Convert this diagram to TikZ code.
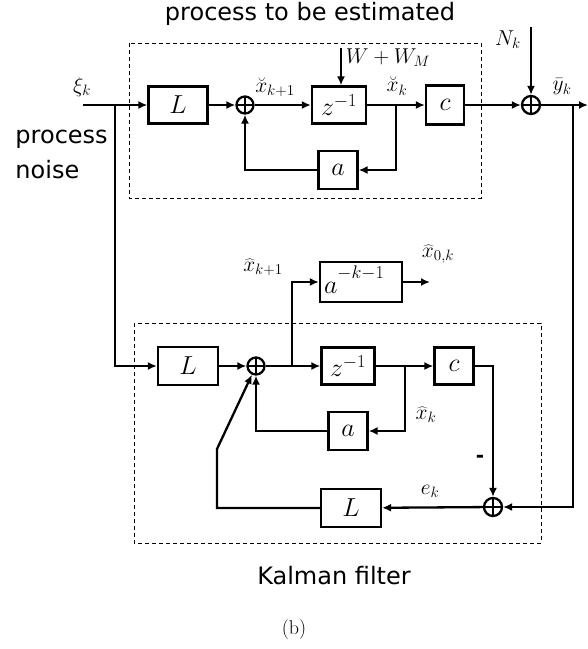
\RequirePackage{fix-cm}
\documentclass[tikz,border=0pt]{standalone}
\usepackage{fontspec}
\setsansfont{DejaVu Sans}
\usetikzlibrary{arrows.meta}

\tikzset{
  block/.style={draw, line width=2.3pt, inner sep=0pt, font=\fontsize{26}{30}\selectfont},
  sumnode/.style={circle, draw, line width=2.3pt, minimum size=17pt, inner sep=0pt,
    path picture={\draw[line width=2.3pt] (path picture bounding box.north) -- (path picture bounding box.south)
      (path picture bounding box.west) -- (path picture bounding box.east);}},
  sig/.style={font=\fontsize{21.5}{24}\selectfont},
  wordtext/.style={font=\sffamily\fontsize{24}{35}\selectfont},
  frame/.style={dashed, line width=1pt, dash pattern=on 4pt off 3pt},
}

\begin{document}
\begin{tikzpicture}[x=1pt, y=-1pt, line width=2.3pt, >={Latex[length=9pt,width=8pt]}]
\useasboundingbox (0,0) rectangle (588,649);

% process to be estimated
\draw[frame] (129,43) rectangle (481,198);
\node[wordtext] (title) at (310,14) {process to be estimated};
\node[wordtext, align=left, anchor=west] (noise) at (11,154) {process\\noise};

\coordinate (xin) at (83,105);
\coordinate (br1) at (115,105);
\node[sig] (xilab) at (82,87) {$\xi_k$};

\node[block, minimum width=59pt, minimum height=37pt] (L1) at (178,105) {$L$};
\node[sumnode] (s1) at (245,105) {};
\node[block, minimum width=54pt, minimum height=37pt] (z1) at (339,105) {$z^{-1}$};
\coordinate (br3) at (396,105);
\node[block, minimum width=38pt, minimum height=39pt] (c1) at (445,105) {$c$};
\node[block, minimum width=39pt, minimum height=38pt] (a1) at (338,170) {$a$};
\node[sumnode, minimum size=18pt] (s2) at (531,105) {};
\coordinate (br2) at (573,105);
\coordinate (yout) at (588,105);

\coordinate (win) at (341,48);
\coordinate (nin) at (531,27);
\node[sig] (wlab) at (388,58) {$W+W_M$};
\node[sig] (nlab) at (508,40) {$N_k$};
\node[sig] (xk1lab) at (275,87) {$\breve{x}_{k+1}$};
\node[sig] (xklab) at (397,86) {$\breve{x}_k$};
\node[sig] (ylab) at (562,87) {$\bar{y}_k$};

\draw[->] (xin) -- (L1);
\draw[->] (L1) -- (s1);
\draw[->] (s1) -- (z1);
\draw[->] (z1) -- (c1);
\draw[->] (c1) -- (s2);
\draw[->] (s2) -- (yout);
\draw[->] (win) -- (win |- z1.north);
\draw[->] (nin) -- (s2);
\draw[->] (br3) |- (a1);
\draw[->] (a1) -| (s1);

% Kalman filter
\draw[frame] (134,323) rectangle (541,543);
\node[wordtext] (kftitle) at (334,576) {Kalman filter};

\node[block, minimum width=60pt, minimum height=38pt] (L2) at (188,366) {$L$};
\node[sumnode] (s3) at (256,366) {};
\coordinate (br4) at (292,366);
\node[block, minimum width=82pt, minimum height=40pt] (ak) at (361,282) {};
\node[block, draw=none, anchor=base west] (akexp) at ([xshift=4pt,yshift=-11pt]ak.west) {$a^{\raisebox{5pt}{$\scriptstyle-k-1$}}$};
\coordinate (x0out) at (430,282);
\node[block, minimum width=53pt, minimum height=37pt] (z2) at (348,366) {$z^{-1}$};
\coordinate (br5) at (405,366);
\node[block, minimum width=39pt, minimum height=37pt] (c2) at (454,366) {$c$};
\node[block, minimum width=39pt, minimum height=38pt] (a2) at (348,431) {$a$};
\node[sumnode, minimum size=18pt] (s4) at (493,507) {};
\node[block, minimum width=60pt, minimum height=38pt] (L3) at (351,508) {$L$};
\coordinate (kink) at (217,449);

\node[sig] (xh1lab) at (263,267) {$\widehat{x}_{k+1}$};
\node[sig] (xh0lab) at (438,254) {$\widehat{x}_{0,k}$};
\node[sig] (xhlab) at (426,415) {$\widehat{x}_k$};
\node[sig] (eklab) at (430,491) {$e_k$};
\node[font=\sffamily\bfseries\fontsize{20}{22}\selectfont] (minus) at (480,459) {-};

\draw[->] (br1) |- (L2);
\draw[->] (L2) -- (s3);
\draw[->] (s3) -- (z2);
\draw[->] (br4) |- (ak);
\draw[->] (ak) -- (x0out);
\draw[->] (z2) -- (c2);
\draw[->] (br5) |- (a2);
\draw[->] (a2) -| (s3);
\draw[->] (c2.east) -| (s4);
\draw[->] (br2) |- (s4);
\draw[->] (s4) -- (L3);
\draw[->] (L3) -| (kink) -- (s3);

\node[font=\fontsize{20}{24}\selectfont] (caption) at (294,630) {(b)};
\end{tikzpicture}
\end{document}
